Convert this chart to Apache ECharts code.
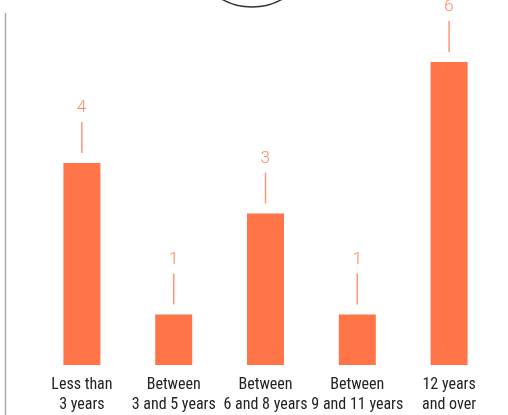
<!DOCTYPE html>
<html>
<head>
<meta charset="utf-8">
<script src="https://cdn.jsdelivr.net/npm/echarts@6/dist/echarts.min.js"></script>
<style>html,body{margin:0;padding:0;background:#fff}#c{width:508px;height:415px}</style>
</head>
<body>
<div id="c"></div>
<script>
const categories = ['Less than\n3 years', 'Between\n3 and 5 years', 'Between\n6 and 8 years', 'Between\n9 and 11 years', '12 years\nand over'];
const values = [4, 1, 3, 1, 6];

const chart = echarts.init(document.getElementById('c'), null, {renderer: 'canvas'});
chart.setOption({
  animation: false,
  grid: {left: 36, right: 13, top: 62, bottom: 50},
  xAxis: {
    type: 'category',
    data: categories,
    axisLine: {show: false},
    axisTick: {show: false},
    axisLabel: {
      color: '#222',
      fontFamily: '"Roboto Condensed", "Open Sans", sans-serif',
      fontSize: 16,
      lineHeight: 20,
      margin: 10,
      interval: 0
    }
  },
  yAxis: {
    type: 'value', min: 0, max: 6, show: false, splitLine: {show: false}
  },
  series: [{
    type: 'bar',
    data: values,
    barWidth: 37,
    itemStyle: {color: '#FF7547'},
    label: {
      show: true,
      position: 'top',
      distance: 10,
      formatter: '{v|{c}}\n{ln|}',
      rich: {
        v: {color: '#FF8A62', fontFamily: '"Roboto Mono", "Liberation Mono", monospace', fontWeight: 300, fontSize: 17, lineHeight: 30, align: 'center'},
        ln: {width: 1.5, height: 31, backgroundColor: '#FF9672', align: 'center'}
      }
    }
  }],
  graphic: [
    {type: 'line', shape: {x1: 5.5, y1: 13, x2: 5.5, y2: 415}, style: {stroke: '#aaa', lineWidth: 1.5}},
    {type: 'circle', shape: {cx: 252, cy: -54, r: 61}, style: {fill: 'none', stroke: '#333', lineWidth: 1.5}}
  ]
});
</script>
</body>
</html>
